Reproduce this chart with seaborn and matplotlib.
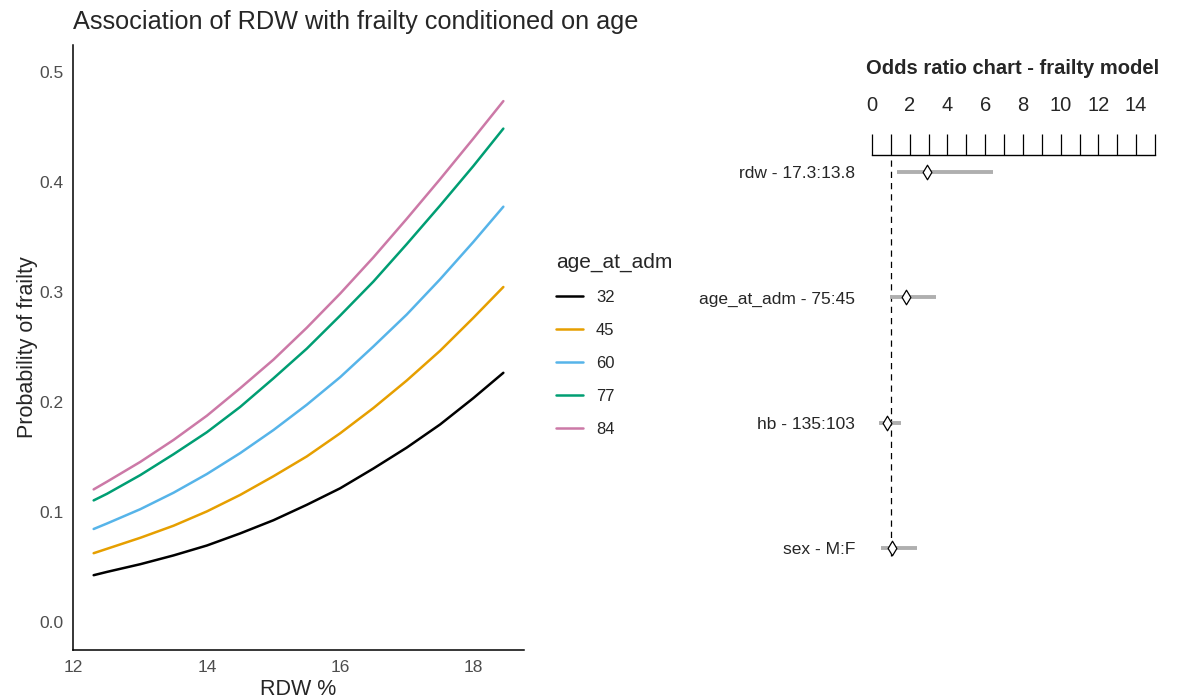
import numpy as np
import pandas as pd
import matplotlib
matplotlib.use('Agg')
import matplotlib.pyplot as plt
import seaborn as sns

# RDW grid (x) and predicted probability of frailty for each age level
rdw = [12.3, 12.5, 13.0, 13.5, 14.0, 14.5, 15.0, 15.5, 16.0, 16.5, 17.0, 17.5, 18.0, 18.45]
p_32 = [0.043, 0.046, 0.053, 0.061, 0.070, 0.081, 0.093, 0.107, 0.122, 0.140, 0.159, 0.180, 0.204, 0.227]
p_45 = [0.063, 0.067, 0.077, 0.088, 0.101, 0.116, 0.133, 0.151, 0.172, 0.195, 0.220, 0.247, 0.277, 0.305]
p_60 = [0.085, 0.090, 0.103, 0.118, 0.135, 0.154, 0.175, 0.198, 0.223, 0.251, 0.280, 0.312, 0.346, 0.378]
p_77 = [0.111, 0.117, 0.134, 0.153, 0.173, 0.196, 0.222, 0.249, 0.279, 0.310, 0.344, 0.379, 0.415, 0.449]
p_84 = [0.121, 0.128, 0.146, 0.166, 0.188, 0.213, 0.239, 0.268, 0.299, 0.332, 0.367, 0.403, 0.440, 0.474]
ages = ['32', '45', '60', '77', '84']
age_colors = ['#000000', '#E69F00', '#56B4E9', '#009E73', '#CC79A7']

# odds ratio chart
or_labels = ['rdw - 17.3:13.8', 'age_at_adm - 75:45', 'hb - 135:103', 'sex - M:F']
or_est = [2.94, 1.80, 0.78, 1.06]
or_low = [1.32, 0.95, 0.39, 0.48]
or_high = [6.39, 3.39, 1.56, 2.37]

sns.set_style('white')
plt.rcParams['font.family'] = ['Liberation Sans', 'DejaVu Sans']

W, H = 1178, 698
fig = plt.figure(figsize=(W / 100, H / 100), dpi=100)


def px_axes(l, t, r, b):
    return fig.add_axes([l / W, 1 - b / H, (r - l) / W, (b - t) / H])


# ---- left panel: predicted probability curves
df = pd.DataFrame({
    'rdw': rdw * 5,
    'prob': p_32 + p_45 + p_60 + p_77 + p_84,
    'age_at_adm': sum([[a] * len(rdw) for a in ages], []),
})
ax = px_axes(73, 45, 524, 650)
sns.lineplot(data=df, x='rdw', y='prob', hue='age_at_adm', hue_order=ages,
             palette=age_colors, linewidth=1.8, ax=ax, legend=False)
ax.set_xlim(11.99, 18.76)
ax.set_ylim(-0.025, 0.525)
ax.set_xticks([12, 14, 16, 18])
ax.set_yticks([0.0, 0.1, 0.2, 0.3, 0.4, 0.5])
ax.set_yticklabels(['0.0', '0.1', '0.2', '0.3', '0.4', '0.5'])
for s in ['top', 'right']:
    ax.spines[s].set_visible(False)
for s in ['left', 'bottom']:
    ax.spines[s].set_color('black')
    ax.spines[s].set_linewidth(1.1)
ax.tick_params(axis='both', length=4, width=0.9, color='#333333',
               labelcolor='#4D4D4D', labelsize=12.5, pad=3)
ax.set_xlabel('RDW %', fontsize=15.5, labelpad=3)
ax.set_ylabel('Probability of frailty', fontsize=15.5, labelpad=1)
fig.text(73 / W, 1 - 22 / H, 'Association of RDW with frailty conditioned on age',
         fontsize=18.2, ha='left', va='center')

# legend
handles = [plt.Line2D([], [], color=c, linewidth=1.8) for c in age_colors]
leg = fig.legend(handles, ages, title='age_at_adm', loc='upper left',
                 bbox_to_anchor=(541 / W, 1 - 238 / H), frameon=False,
                 fontsize=12, title_fontsize=15, handlelength=1.6,
                 labelspacing=1.08, handletextpad=0.8)
leg._legend_box.align = 'left'

# ---- right panel: odds ratio chart
ax2 = px_axes(872, 155, 1155, 600)
ypos = list(range(len(or_labels)))
ax2.hlines(ypos, or_low, or_high, color='#AFAFAF', linewidth=2.8, zorder=2)
ax2.vlines(1, -0.1, 3.06, colors='black', linestyles=(0, (5, 4)), linewidth=0.9, zorder=1)
sns.scatterplot(x=or_est, y=ypos, marker='d', s=55, facecolor='white',
                edgecolor='black', linewidth=0.9, ax=ax2, zorder=3)
ax2.set_xlim(0, 15)
ax2.set_ylim(3.415, -0.136)
for s in ['left', 'right', 'bottom']:
    ax2.spines[s].set_visible(False)
ax2.spines['top'].set_color('black')
ax2.spines['top'].set_linewidth(1.0)
ax2.xaxis.tick_top()
ax2.set_xticks(range(16))
ax2.set_xticklabels([str(i) if i % 2 == 0 and i <= 14 else '' for i in range(16)],
                    fontsize=14.5)
ax2.tick_params(axis='x', direction='out', length=15, width=0.9, color='black', pad=14)
ax2.set_yticks(ypos)
ax2.set_yticklabels(or_labels, fontsize=12.5)
ax2.tick_params(axis='y', length=0, pad=12)
ax2.set_xlabel('')
ax2.set_ylabel('')
fig.text(1013 / W, 1 - 68 / H, 'Odds ratio chart - frailty model',
         fontsize=14.5, fontweight='bold', ha='center', va='center')

fig.savefig('out.png', dpi=100)
